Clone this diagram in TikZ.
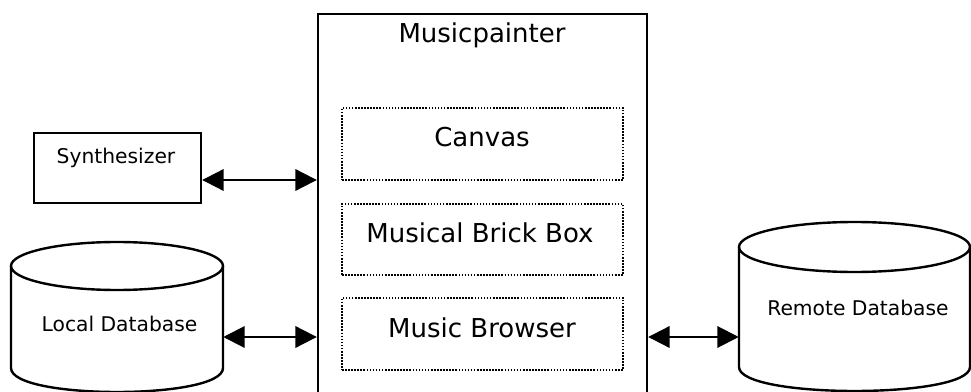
\documentclass[tikz,border=0pt]{standalone}
\usepackage{fontspec}
\setmainfont{DejaVu Sans}
\usetikzlibrary{arrows.meta,fit,calc}

\tikzset{
  solidbox/.style={draw, line width=1.8pt, inner sep=0pt},
  dotbox/.style={draw, line width=1.3pt, dash pattern=on 1.2pt off 1.1pt, inner sep=0pt},
  ghost/.style={inner sep=0pt},
  bigtext/.style={font=\fontsize{19.5pt}{22pt}\selectfont, anchor=base, inner sep=0pt},
  smalltext/.style={font=\fontsize{15.2pt}{18pt}\selectfont, anchor=base, inner sep=0pt},
  link/.style={line width=1.6pt, {Triangle[length=16pt,width=16pt]}-{Triangle[length=16pt,width=16pt]}},
  drum/.style={line width=1.8pt}
}

\begin{document}
\begin{tikzpicture}[x=0.75pt, y=-0.75pt]
  \useasboundingbox (0,0) rectangle (971,392);
  \clip (0,0) rectangle (971,392);
  \fill[white] (0,0) rectangle (971,392);

  % application frame and its components
  \node (mp) [solidbox, fit={(318,14) (647,430)}] {};
  \node (mptitle) [bigtext] at (482,43) {Musicpainter};
  \node (canvas) [dotbox, fit={(342,108) (623,180)}] {};
  \node (canvastext) [bigtext] at (482,147) {Canvas};
  \node (brick) [dotbox, fit={(342,204) (623,275)}] {};
  \node (bricktext) [bigtext] at (480,243) {Musical Brick Box};
  \node (browser) [dotbox, fit={(342,298) (623,370)}] {};
  \node (browsertext) [bigtext] at (482,337) {Music Browser};

  % synthesizer
  \node (synth) [solidbox, fit={(34,133) (201,203)}] {};
  \node (synthtext) [smalltext] at (116,164) {Synthesizer};

  % local database drum
  \node (localdb) [ghost, fit={(11,266) (223,368)}] {};
  \draw[drum] (117,266) ellipse [x radius=106, y radius=24];
  \draw[drum] (11,266) -- (11,368)
    .. controls (11,400) and (223,400) .. (223,368) -- (223,266);
  \node (localtext) [smalltext] at (119.5,331) {Local Database};

  % remote database drum
  \node (remotedb) [ghost, fit={(739,247) (970,367)}] {};
  \draw[drum] (854.5,247) ellipse [x radius=115.5, y radius=25];
  \draw[drum] (739,247) -- (739,367)
    .. controls (739,399) and (970,399) .. (970,367) -- (970,247);
  \node (remotetext) [smalltext] at (858,315) {Remote Database};

  % connectors
  \coordinate (ysynth) at (0,180);
  \coordinate (ydb) at (0,337);
  \draw[link] (synth.east |- ysynth) -- (mp.west |- ysynth);
  \draw[link] (localdb.east |- ydb) -- (mp.west |- ydb);
  \draw[link] (mp.east |- ydb) -- (remotedb.west |- ydb);
\end{tikzpicture}
\end{document}
